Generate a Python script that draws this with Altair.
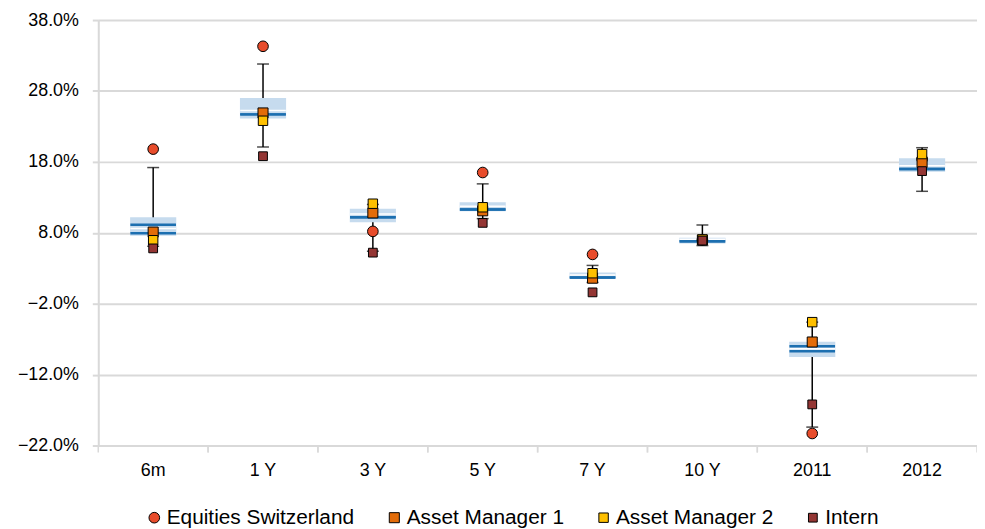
import altair as alt
import pandas as pd

categories = ["6m", "1 Y", "3 Y", "5 Y", "7 Y", "10 Y", "2011", "2012"]

# box-plot statistics (in %)
whisker_low = [6.1, 20.1, 5.4, 10.0, 1.0, 6.2, -19.4, 13.85]
whisker_high = [17.2, 31.8, 12.0, 14.9, 3.4, 9.1, -4.6, 20.0]
box_low = [7.6, 24.1, 9.5, 11.05, 1.6, 6.5, -9.5, 16.6]
box_high = [10.2, 27.0, 11.4, 12.3, 2.4, 7.3, -7.35, 18.5]
line_a = [9.15, 24.7, 10.2, 11.3, 1.7, 6.8, -8.0, 17.0]
line_b = [7.95, 24.7, 10.2, 11.3, 1.7, 6.8, -8.7, 17.0]
line_white = [8.6, 25.25, 10.65, 11.75, 2.05, 7.1, -8.35, 17.45]

series = ["Equities Switzerland", "Asset Manager 1", "Asset Manager 2", "Intern"]
equities = [19.8, 34.3, 8.2, 16.5, 4.95, 7.0, -20.3, 18.4]
asset_manager_1 = [8.1, 24.9, 10.8, 11.1, 1.6, 7.0, -7.4, 17.9]
asset_manager_2 = [6.95, 23.8, 12.1, 11.6, 2.3, 7.05, -4.6, 19.1]
intern = [5.8, 18.8, 5.2, 9.4, -0.4, 6.9, -16.2, 16.7]

series_colors = ["#e84c2b", "#e36c09", "#ffc000", "#943634"]
series_shapes = ["circle", "square", "square", "square"]
series_sizes = [115, 78, 78, 78]
y_ticks = [-22, -12, -2, 8, 18, 28, 38]

FONT = "Liberation Sans"

stats = pd.DataFrame({
    "cat": categories,
    "wlo": whisker_low, "whi": whisker_high,
    "blo": box_low, "bhi": box_high,
    "la": line_a, "lb": line_b, "lw": line_white,
})

rows = []
for name, vals in zip(series, [equities, asset_manager_1, asset_manager_2, intern]):
    for c, v in zip(categories, vals):
        rows.append({"cat": c, "series": name, "value": v})
pts = pd.DataFrame(rows)

x_enc = alt.X("cat:N", sort=categories, title=None,
              scale=alt.Scale(paddingInner=0, paddingOuter=0),
              axis=alt.Axis(labelAngle=0, ticks=False, domain=False, grid=False,
                            labelFontSize=18, labelColor="black", labelFont=FONT,
                            labelPadding=16))
y_axis = alt.Axis(values=y_ticks, labelExpr="format(datum.value, '.1f') + '%'",
                  gridColor="#d9d9d9", gridWidth=2, domainColor="#d9d9d9", domainWidth=2,
                  tickColor="#d9d9d9", tickWidth=2, tickSize=6, labelPadding=14,
                  labelFontSize=18, labelColor="black", labelFont=FONT)
y_scale = alt.Scale(domain=[-22, 38], nice=False, zero=False)

def Y(field):
    return alt.Y(f"{field}:Q", scale=y_scale, axis=y_axis, title=None)

base = alt.Chart(stats).encode(x=x_enc)

whisker = base.mark_rule(color="black", strokeWidth=1.5).encode(y=Y("wlo"), y2="whi")
cap_lo = base.mark_tick(color="black", size=12, thickness=1.5).encode(y=Y("wlo"))
cap_hi = base.mark_tick(color="black", size=12, thickness=1.5).encode(y=Y("whi"))
box = base.mark_bar(color="#c6dbee", width=alt.RelativeBandSize(0.42)).encode(y=Y("blo"), y2="bhi")
wline = base.mark_tick(color="white", size=46, thickness=1.5, opacity=1).encode(y=Y("lw"))
dline_a = base.mark_tick(color="#1c6fb0", size=46, thickness=2.5, opacity=1).encode(y=Y("la"))
dline_b = base.mark_tick(color="#1c6fb0", size=46, thickness=2.5, opacity=1).encode(y=Y("lb"))

tick_l = base.mark_rule(color="#d9d9d9", strokeWidth=1.5).encode(
    x=alt.X("cat:N", sort=categories, bandPosition=0, title=None), y=alt.value(429), y2=alt.value(436))
tick_r = base.mark_rule(color="#d9d9d9", strokeWidth=1.5).encode(
    x=alt.X("cat:N", sort=categories, bandPosition=1, title=None), y=alt.value(429), y2=alt.value(436))

leg = alt.Legend(title=None, orient="none", legendX=46, legendY=491, direction="horizontal",
                 labelFontSize=21, labelFont=FONT, labelColor="black", symbolSize=95,
                 symbolStrokeColor="black", symbolStrokeWidth=1, columnPadding=29,
                 labelOffset=2, labelLimit=400)

points = alt.Chart(pts).mark_point(filled=True, stroke="black", strokeWidth=1, opacity=1).encode(
    x=x_enc,
    y=Y("value"),
    color=alt.Color("series:N", sort=series, scale=alt.Scale(domain=series, range=series_colors), legend=leg),
    shape=alt.Shape("series:N", sort=series, scale=alt.Scale(domain=series, range=series_shapes), legend=leg),
    size=alt.Size("series:N", scale=alt.Scale(domain=series, range=series_sizes), legend=None),
)

chart = alt.layer(whisker, cap_lo, cap_hi, box, wline, dline_a, dline_b, tick_l, tick_r, points).properties(
    width=886, height=429,
    autosize=alt.AutoSizeParams(type="none"),
    padding={"left": 91, "top": 10, "right": 0, "bottom": 82},
).configure_view(stroke=None).configure(font=FONT)

chart.save("out.html", embed_options={"renderer": "svg", "actions": False})
